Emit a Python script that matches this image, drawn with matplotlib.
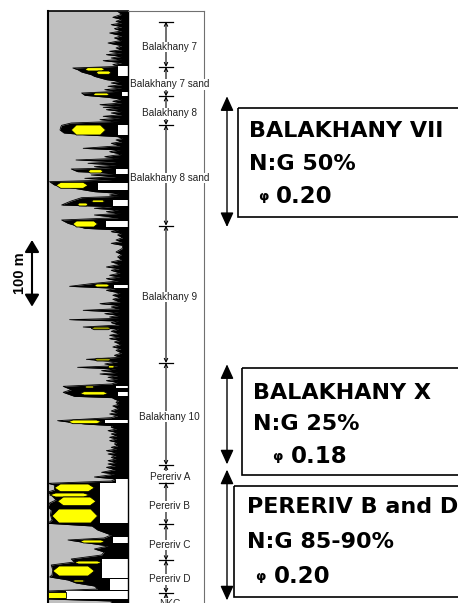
import matplotlib.pyplot as plt
import matplotlib.transforms as mtransforms
from matplotlib.patches import Polygon, Rectangle

plt.rcParams['font.family'] = ['Liberation Sans', 'DejaVu Sans']

# ---------------------------------------------------------------- log data
# depth in m below top of the track, gr = left edge of the black fill (% of track width)
d_bk7 = [0.5, 5, 9.5, 12.5, 15.5, 18, 20.5, 23.5, 26.5, 30, 33, 37, 40.5, 44, 48, 52, 55.5, 58,
         60.5, 63, 65.5, 68, 70.5, 72.5, 74.5, 77.5, 80.5, 83]
g_bk7 = [87, 92, 81, 92, 85, 92, 79, 92, 83, 92, 77, 92, 83, 92, 75, 92, 85, 92,
         77, 92, 73, 92, 79, 92, 69, 92, 81, 90]

d_bk8 = [85.5, 88, 91.5, 95.5, 98, 103, 105.5, 108, 110.5, 113, 115.5, 118, 120.5, 123, 126.5, 129.5,
         132.5, 135.5, 138, 140.5, 142.5, 144.5, 146, 148, 150.5, 153, 155.5, 158, 160.5, 163, 165.5]
g_bk8 = [31, 37, 42, 54, 58, 73, 90, 79, 92, 75, 92, 71, 88, 42, 46, 75,
         92, 81, 92, 65, 90, 69, 90, 73, 92, 79, 92, 69, 90, 65, 88]

d_bk8s = [168, 171.5, 174, 178.5, 183, 186, 188.5, 191, 193.5, 196, 198.5, 202, 206, 208.5, 211, 215,
          218.5, 221, 223.5, 226, 228.5, 231, 233.5, 235.5, 237, 241, 243.5, 246, 248.5, 251, 253.5,
          256, 261, 266, 271, 273.5, 276, 278, 280, 285, 291, 293.5, 296, 298.5, 301, 303.5, 306, 310,
          313.5, 318.5, 326, 328.5]
g_bk8s = [29, 17, 16, 15, 20, 50, 87, 93, 85, 92, 79, 90, 44, 90, 77, 92,
          71, 88, 35, 85, 50, 85, 58, 80, 29, 37, 85, 54, 85, 46, 80,
          2, 8, 33, 58, 88, 77, 88, 42, 29, 17, 80, 58, 88, 73, 90, 58, 88,
          17, 25, 46, 88]

d_bk9 = [331, 333.5, 336, 340, 343.5, 346, 348.5, 351.5, 356, 361.5, 365, 369, 373, 376.5, 380, 384,
         386.5, 389, 393, 396.5, 399, 401.5, 405, 409, 413, 416, 419, 423, 426.5, 429.5, 432.5, 436,
         439, 441.5, 444, 446.5, 449, 451.5, 454, 456.5, 459, 461, 463, 465, 467.5, 471, 474, 477,
         480.5, 483.5, 486.5, 489, 491.5, 494, 496.5, 500, 504, 506.5, 509, 513, 516.5, 519.5, 522.5, 526]
g_bk9 = [79, 92, 87, 93, 85, 92, 79, 93, 93, 85, 92, 87, 92, 79, 90, 73,
         89, 79, 90, 77, 90, 73, 88, 54, 27, 85, 73, 90, 81, 90, 81, 90,
         65, 89, 79, 89, 44, 88, 71, 89, 77, 88, 27, 88, 79, 89, 44, 88,
         79, 89, 77, 89, 77, 90, 83, 91, 81, 91, 85, 92, 83, 90, 48, 87]

d_bk10 = [529.5, 532, 534.5, 537, 539.5, 542, 544.5, 547, 549.5, 552, 554.5, 557, 559.5, 563, 568, 572,
          578, 580, 582, 584.5, 587, 590, 592.5, 596, 600, 602, 604.5, 607, 610, 614.5, 619.5, 622,
          624.5, 627, 629.5, 632, 634.5, 637, 639.5, 642, 644.5, 647, 649.5, 652, 654.5, 657, 659.5, 662,
          664.5, 667, 669.5, 672, 674.5, 677, 679.5, 682, 684.5, 688, 692, 694.5, 697, 699, 702, 705]
g_bk10 = [71, 87, 37, 85, 67, 87, 65, 87, 75, 87, 73, 87, 79, 19, 29, 19,
          33, 80, 83, 88, 85, 88, 81, 88, 79, 87, 77, 87, 79, 12, 46, 80,
          79, 86, 75, 86, 79, 86, 77, 86, 77, 86, 83, 87, 79, 86, 73, 85,
          75, 85, 79, 85, 75, 85, 75, 84, 73, 84, 67, 83, 71, 58, 85, 79]

d_per = [708.5, 711, 718.5, 721.5, 726, 733.5, 738, 744, 748.5, 756, 763.5, 768.5, 772.5, 778.5, 786,
         790.5, 793.5, 798, 802.5, 807, 811.5, 816, 822, 826.5, 831, 838.5, 846, 849, 853.5, 858,
         862.5, 867, 870, 876, 882, 885, 888]
g_per = [0, 8, 8, 0, 4, 10, 2, 0, 4, 3, 5, 0, 55, 62, 79,
         70, 25, 50, 75, 58, 70, 67, 29, 33, 4, 6, 5, 2, 25, 35,
         58, 62, 0, 0, 0, 79, 79]

# clean intervals (white)
white_top = [82.5, 121.5, 171, 237, 258, 283.5, 315, 411, 562.5, 571.5, 613.5, 702, 708, 789, 822, 852, 870]
white_base = [97.5, 127, 186, 244.5, 268.5, 292.5, 324, 415.5, 565.5, 577.5, 618, 708, 768, 798, 850.5, 868.5, 882]
white_left = [87, 92, 87, 85, 62, 81, 73, 83, 85, 87, 71, 85, 65, 81, 68, 77, 23]

# sand bodies (yellow)
sand_top = [85, 90, 123, 171, 238, 257, 283.5, 288, 315, 409.5, 474, 521, 532,
            562.5, 571, 613.5, 709.5, 723, 729, 747, 793.5, 825, 832.5, 853.5, 871.5]
sand_base = [90, 95, 127, 186, 243, 266, 287, 292.5, 324, 414, 478, 525, 535.5,
             565.5, 576, 619, 721, 729, 742, 768, 798, 829.5, 847.5, 856.5, 880.5]
sand_left = [46, 60, 56, 29, 50, 10, 54, 37, 31, 58, 54, 58, 75,
             46, 40, 25, 8, 2, 12, 5, 40, 33, 6, 31, 0]
sand_right = [71, 79, 77, 72, 69, 50, 71, 50, 62, 77, 79, 79, 83,
              58, 75, 67, 58, 52, 60, 62, 71, 67, 58, 46, 23]
sand_clean = [1, 1, 1, 1, 1, 1, 1, 1, 1, 1, 0, 0, 1,
              1, 1, 1, 1, 1, 1, 1, 1, 1, 1, 1, 1]

# zonation
zone_names = ["Balakhany 7", "Balakhany 7 sand", "Balakhany 8", "Balakhany 8 sand", "Balakhany 9",
              "Balakhany 10", "Pereriv A", "Pereriv B", "Pereriv C", "Pereriv D", "NKG"]
zone_bounds = [16, 84, 128, 171, 322, 528, 681, 708, 770, 824, 873, 897]

# reservoir summaries
res_titles = ["BALAKHANY VII", "BALAKHANY X", "PERERIV B and D"]
res_ng = ["N:G 50%", "N:G 25%", "N:G 85-90%"]
res_phi = ["0.20", "0.18", "0.20"]
res_top = [128, 530, 688]
res_base = [324, 680, 884]

scale_top, scale_len = 343.5, 100

depth = d_bk7 + d_bk8 + d_bk8s + d_bk9 + d_bk10 + d_per
gr = g_bk7 + g_bk8 + g_bk8s + g_bk9 + g_bk10 + g_per

# ---------------------------------------------------------------- figure
W, H = 458, 603
track_top = 11
d_bottom = (H - track_top) * 1.5

fig = plt.figure(figsize=(W / 100, H / 100), dpi=100)

ax_log = fig.add_axes([48 / W, 0, 80 / W, (H - track_top) / H])
ax_log.set_facecolor('#c0c0c0')
ax_log.fill_betweenx(depth, gr, 100, color='black', lw=0, zorder=1)
ax_log.plot(gr, depth, color='black', lw=0.6, zorder=1.5)
for t, b, l in zip(white_top, white_base, white_left):
    ax_log.add_patch(Rectangle((l, t), 100 - l, b - t, facecolor='white', lw=0, zorder=2))
for t, b, l, r, c in zip(sand_top, sand_base, sand_left, sand_right, sand_clean):
    tp = 0.15 * (r - l) if l > 0 else 0
    m = (t + b) / 2
    pts = [(l, m), (l + tp, t), (r - tp, t), (r, m), (r - tp, b), (l + tp, b)]
    ax_log.add_patch(Polygon(pts, closed=True, facecolor='#ffff00' if c else '#9a9a00',
                             edgecolor='black', lw=0.6, zorder=3))
ax_log.set_xlim(0, 100)
ax_log.set_ylim(d_bottom, 0)
ax_log.set_xticks([])
ax_log.set_yticks([])
ax_log.spines['bottom'].set_visible(False)
ax_log.spines['left'].set_linewidth(1.5)
ax_log.spines['top'].set_linewidth(1.2)
ax_log.spines['right'].set_linewidth(1.0)

ax_zone = fig.add_axes([128 / W, 0, 76 / W, (H - track_top) / H])
ax_zone.set_xlim(0, 1)
ax_zone.set_ylim(d_bottom, 0)
ax_zone.set_xticks([])
ax_zone.set_yticks([])
ax_zone.set_facecolor('none')
for s in ['bottom', 'left']:
    ax_zone.spines[s].set_visible(False)
for s in ['top', 'right']:
    ax_zone.spines[s].set_color('#707070')
    ax_zone.spines[s].set_linewidth(0.8)

for b in zone_bounds[:-1]:
    ax_zone.plot([0.41, 0.59], [b, b], color='black', lw=0.9)
for name, top, base in zip(zone_names, zone_bounds[:-1], zone_bounds[1:]):
    mid = (top + base) / 2
    for end in (top, base):
        ax_zone.annotate('', xy=(0.5, end), xytext=(0.5, mid),
                         arrowprops=dict(arrowstyle='->', color='black', lw=0.8,
                                         mutation_scale=6, shrinkA=0, shrinkB=0))
    ax_zone.text(0.55, mid + 4, name, ha='center', va='center', fontsize=7.2, color='#222222',
                 bbox=dict(facecolor='white', edgecolor='none', pad=0.3), clip_on=False)

# overlay in pixel units for the annotations
ax_over = fig.add_axes([0, 0, 1, 1])
ax_over.set_xlim(0, W)
ax_over.set_ylim(H, 0)
ax_over.axis('off')
trans = mtransforms.blended_transform_factory(ax_over.transData, ax_log.transData)

# 100 m scale
ax_over.annotate('', xy=(32, scale_top), xytext=(32, scale_top + scale_len),
                 xycoords=trans, textcoords=trans,
                 arrowprops=dict(arrowstyle='<|-|>,head_length=0.6,head_width=0.36', color='black',
                                 lw=1.5, mutation_scale=12, shrinkA=0, shrinkB=0))
ax_over.text(20, scale_top + scale_len / 2, "100 m", transform=trans, rotation=90,
             ha='center', va='center', fontsize=10.5, weight='bold')

box_left = [238, 242, 234]
box_y = [(108, 217), (368, 475), (486, 597)]
text_x = [249, 253, 247]
phi_x = [(258, 276), (272, 291), (255, 274)]
baselines = [(136.7, 170, 203), (399, 430, 463), (513, 548, 583)]
box_font = dict(family='DejaVu Sans', weight='bold', va='baseline')

for i in range(3):
    ax_over.annotate('', xy=(227, res_top[i]), xytext=(227, res_base[i]),
                     xycoords=trans, textcoords=trans,
                     arrowprops=dict(arrowstyle='<|-|>,head_length=0.55,head_width=0.25', color='black',
                                     lw=1.0, mutation_scale=16, shrinkA=0, shrinkB=0))
    y0, y1 = box_y[i]
    ax_over.add_patch(Rectangle((box_left[i], y0), 400, y1 - y0, fill=False,
                                edgecolor='black', lw=1.2, clip_on=False))
    b1, b2, b3 = baselines[i]
    ax_over.text(text_x[i], b1, res_titles[i], fontsize=16, **box_font)
    ax_over.text(text_x[i], b2, res_ng[i], fontsize=16, **box_font)
    ax_over.text(phi_x[i][0], b3 - 3, "\u03c6", fontsize=9.5, **box_font)
    ax_over.text(phi_x[i][1], b3, res_phi[i], fontsize=16.5, **box_font)

plt.savefig("out.png", dpi=100)
